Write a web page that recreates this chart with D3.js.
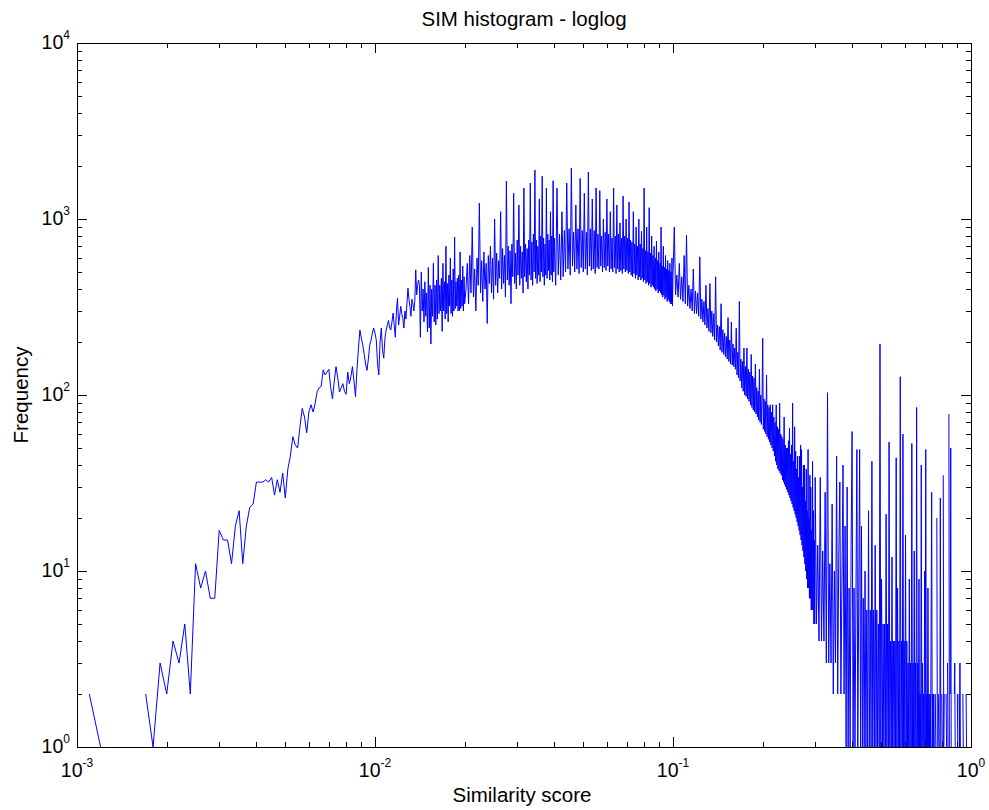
<!DOCTYPE html>
<html><head><meta charset="utf-8">
<script src="https://cdn.jsdelivr.net/npm/d3@7"></script>
<style>
body{margin:0;background:#fff}
svg{display:block}
text{font-family:"Liberation Sans",Arial,Helvetica,sans-serif;fill:#000}
</style>
</head><body>
<svg id="chart" width="989" height="810"></svg>
<script>
// ---- text ----
const titleText = "SIM histogram - loglog";
const xLabelText = "Similarity score";
const yLabelText = "Frequency";
const xTickExps = [-3, -2, -1, 0];
const yTickExps = [0, 1, 2, 3, 4];
const minorMults = [2, 3, 4, 5, 6, 7, 8, 9];

// ---- histogram data: bins on regular grids (x = start + step*(i+1)) ----
const gridA = {start: 0.0010, step: 0.0001};
const countsA = [
  2,1,0,0,0,0,2,1,3,2,
  4,3,5,2,11,8,10,7,7,17,
  15,15,11,18,22,11,18,23,24,32,
  32,32,33,32,34,27,33,28,36,26,
  38,45,58,52,50,66,84,75,61,80,
  88,80,90,105,110,112,139,130,135,140,
  110,95,120,145,125,104,110,116,105,101,
  135,116,127,145,120,98,139,185,234,210,
  192,170,150,138,160,192,205,225,240,225
];
const gridB = {start: 0.0100, step: 0.0001};
const countsB = [
  205,150,130,200,240,180,162,210,234,250,
  265,240,234,260,292,250,213,300,355,250,
  280,319,290,272,240,300,270,330,405,350,
  319,280,350,330,300,340,514,370,420,450,
  420,213,500,300,400,260,440,280,380,228,
  530,240,420,195,400,280,560,260,420,250,
  450,270,620,290,420,300,460,230,560,300,
  440,270,700,290,430,260,480,320,600,290,
  450,280,520,300,790,310,440,320,460,300,
  480,300,650,310,450,320,540,300,470,330
];
const gridC1 = {start: 0.0200, step: 0.0002};
const countsC1 = [
  400,560,330,620,380,900,360,520,300,600,
  420,1230,380,580,340,650,400,560,255,620,
  430,700,380,600,350,1000,420,640,380,580,
  460,1100,400,680,430,620,360,1640,450,700,
  420,660,330,720,470,1400,430,640,400,760,
  480,1200,420,700,460,650,380,1500,470,720,
  440,680,400,760,480,1600,450,740,420,820,
  500,1900,460,760,430,700,480,1300,440,800,
  500,1750,470,780,420,720,480,1500,460,820,
  510,760,450,1100,480,800,440,1650,500,780
];
const gridC2 = {start: 0.0400, step: 0.0004};
const countsC2 = [
  420,1500,480,820,450,1100,470,
  860,500,1600,520,880,480,1950,540,840,500,1200,520,880,490,1700,530,860,500,1400,520,840,480,1850,540,880,510,1300,520,860,490,1500,530,
  820,520,1450,540,800,500,1000,530,840,510,1300,540,820,500,1100,520,780,500,1500,530,800,490,1200,520,820,500,950,510,780,490,1350,520,800,500,1000,510,780,490,1250,500,760,
  480,740,470,1100,490,720,460,900,480,700,450,1000,470,720,450,850,460,680,440,1500,450,660,430,900,440,650,420,1160,430,640,410,800,420,620,410,700,400,600,390,750,400,580,380,650,390,
  560,380,900,370,540,360,700,370,530,350,620,360,520,340,580,350,510,340,560,330,500,330,600,320,480
];
const gridD = {start: 0.100, step: 0.001};
const countsD = [
  900,370,480,360,560,350,470,340,620,330,
  810,320,420,310,400,300,520,290,390,290,
  380,280,610,270,350,260,340,250,420,240,
  310,230,430,225,300,215,290,205,470,200,
  250,190,245,180,330,175,235,170,225,165,
  215,160,275,155,205,150,260,148,195,145,
  185,140,240,130,175,125,340,120,160,110,
  155,105,185,100,145,98,185,95,140,92,
  135,88,170,85,128,82,125,80,150,78,
  110,75,105,72,140,70,100,68,96,210,
  64,95,62,92,60,130,58,88,56,85,54,88,52,80,50,88,48,75,45,70,
  42,88,40,66,38,64,37,90,36,60,35,58,33,56,32,75,31,52,30,50,
  29,50,28,55,27,65,26,46,25,52,24,90,23,42,22,66,21,48,20,38,
  19,45,18,34,17,45,16,52,15,49,14,30,13,40,12,40,11,25,10,38,
  9,22,8,49,8,20,7,35,7,30,6,17,6,42,6,22,5,15,5,34
];
const gridE = {start: 0.300, step: 0.003};
const countsE = [
  5,14,4,34,4,13,4,28,3,103,
  3,11,3,24,2,10,3,45,2,12,
  32,2,9,40,2,18,1,30,1,8,
  1,14,62,1,8,1,7,49,1,7,
  49,1,18,1,7,1,10,1,6,1,
  22,1,6,1,42,1,6,1,14,1,
  6,1,5,1,195,1,9,1,5,1,
  5,1,21,1,5,1,54,1,4,1,
  12,1,4,1,4,1,44,1,8,1,
  4,1,127,1,4,1,60,1,4,1,
  16,1,4,1,3,1,9,1,3,1,
  53,1,3,1,13,1,3,1,85,1,
  3,1,9,1,2,1,40,1,3,1,
  2,1,10,1,49,1,2,1,8,1,
  2,1,2,1,6,28,1,2,1,2,
  1,0,2,1,0,20,1,0,2,1,
  0,1,26,1,0,2,1,0,35,1,
  2,0,1,0,2,1,0,3,1,0,
  78,1,0,2,50,1,0,2,0,1,
  0,0,2,3,1,0,1,0,0,2,
  1,0,0,2,1,3,1,0,0,1,
  0,0,2,1,0,0,0,1,0,0,
  2,1,0,0,0,1,0,0,0,1,0
];

const segments = [[gridA, countsA], [gridB, countsB], [gridC1, countsC1], [gridC2, countsC2], [gridD, countsD], [gridE, countsE]];
const series = [];
segments.forEach(([g, c]) => c.forEach((v, i) => {
  const s = +(g.start + g.step * (i + 1)).toFixed(6);
  if (s < 1) series.push({s, v});
}));

// ---- layout ----
const L = 77, R = 971, T = 43, B = 747;
const svg = d3.select("#chart");
const x = d3.scaleLog().domain([1e-3, 1]).range([L, R]);
const y = d3.scaleLog().domain([1, 1e4]).range([B, T]);

const xMajor = xTickExps.map(e => Math.pow(10, e));
const yMajor = yTickExps.map(e => Math.pow(10, e));
const xMinor = [];
xTickExps.slice(0, -1).forEach(e => minorMults.forEach(m => xMinor.push(m * Math.pow(10, e))));
const yMinor = [];
yTickExps.slice(0, -1).forEach(e => minorMults.forEach(m => yMinor.push(m * Math.pow(10, e))));

svg.append("defs").append("clipPath").attr("id", "plotclip")
  .append("rect").attr("x", L).attr("y", T - 1).attr("width", R - L).attr("height", B - T + 1);

// data line
const line = d3.line().defined(d => d.v > 0).x(d => x(d.s)).y(d => y(d.v));
svg.append("path").datum(series)
  .attr("clip-path", "url(#plotclip)")
  .attr("d", line)
  .attr("fill", "none")
  .attr("stroke", "#0000ff")
  .attr("stroke-width", 1)
  .attr("stroke-linejoin", "round");

// axes (ticks inward on all four sides)
function addAxis(axisFn, scale, transform, values, size) {
  const g = svg.append("g").attr("transform", transform)
    .call(axisFn(scale).tickValues(values).tickSize(size).tickSizeOuter(0).tickFormat(""));
  g.selectAll("path.domain").attr("stroke", "#000").attr("stroke-width", 1);
  g.selectAll(".tick line").attr("stroke", "#000");
  g.attr("shape-rendering", "crispEdges");
  return g;
}
[[xMajor, -10], [xMinor, -5]].forEach(([v, s]) => {
  addAxis(d3.axisBottom, x, `translate(0,${B})`, v, s);
  addAxis(d3.axisTop, x, `translate(0,${T})`, v, s);
});
[[yMajor, -10], [yMinor, -5]].forEach(([v, s]) => {
  addAxis(d3.axisLeft, y, `translate(${L},0)`, v, s);
  addAxis(d3.axisRight, y, `translate(${R},0)`, v, s);
});

// tick labels with superscripts
function sci(t, e) {
  t.append("tspan").text("10");
  t.append("tspan").attr("dy", -10).attr("font-size", 12).text(String(e));
}
xTickExps.forEach(e => {
  const t = svg.append("text").attr("x", x(Math.pow(10, e))).attr("y", B + 30)
    .attr("text-anchor", "middle").attr("font-size", 19.5);
  sci(t, e);
});
yTickExps.forEach(e => {
  const t = svg.append("text").attr("x", L - 7).attr("y", y(Math.pow(10, e)) + 6)
    .attr("text-anchor", "end").attr("font-size", 19.5);
  sci(t, e);
});

// titles
svg.append("text").attr("x", (L + R) / 2).attr("y", 26).attr("text-anchor", "middle")
  .attr("font-size", 20.5).text(titleText);
svg.append("text").attr("x", (L + R) / 2 - 2).attr("y", 802).attr("text-anchor", "middle")
  .attr("font-size", 20.5).text(xLabelText);
svg.append("text").attr("transform", `translate(28,${(T + B) / 2}) rotate(-90)`)
  .attr("text-anchor", "middle").attr("font-size", 20.5).text(yLabelText);
</script>
</body></html>
